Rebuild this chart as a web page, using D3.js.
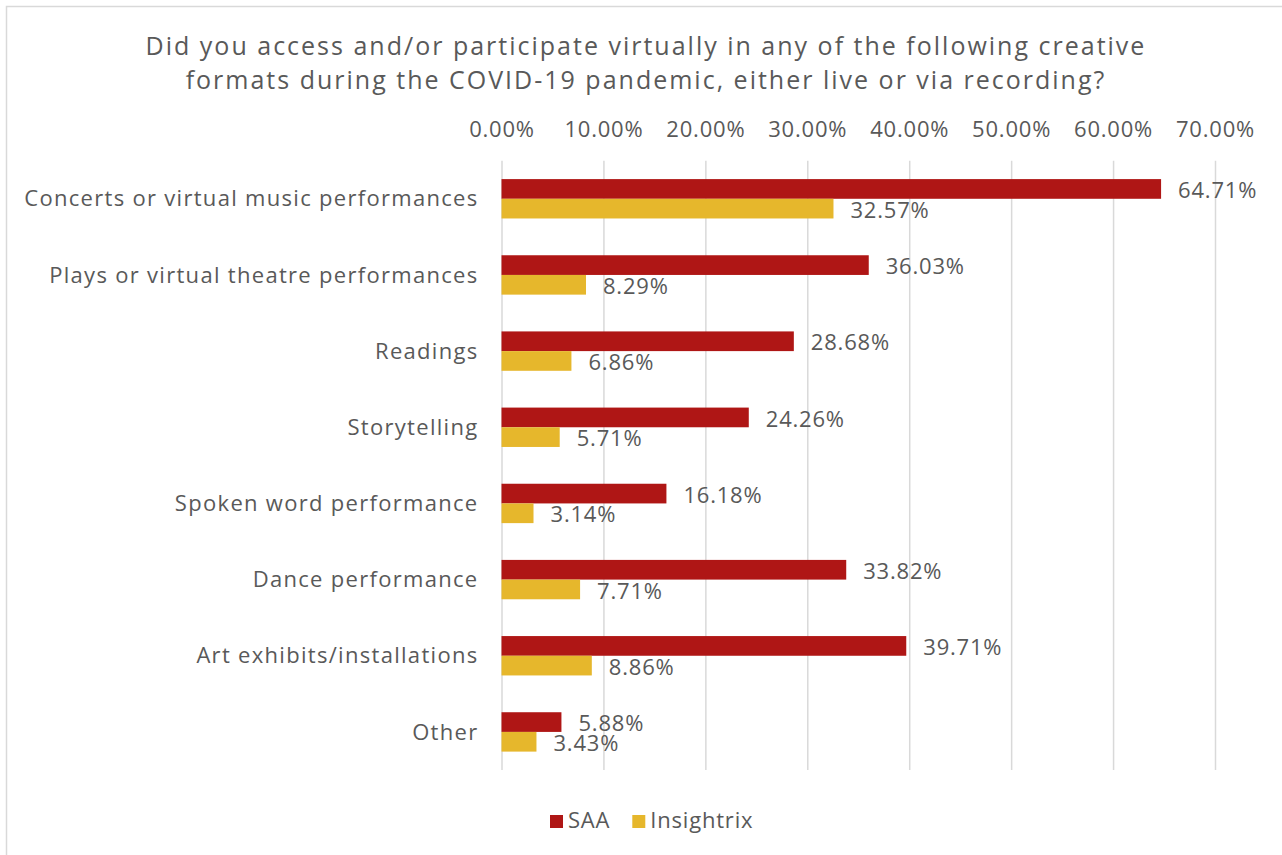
<!DOCTYPE html>
<html>
<head>
<meta charset="utf-8">
<script src="https://cdn.jsdelivr.net/npm/d3@7"></script>
<style>
  html, body { margin: 0; padding: 0; background: #ffffff; }
  svg { display: block; }
  text { font-family: "Open Sans", sans-serif; fill: #595959; letter-spacing: 0.8px; }
</style>
</head>
<body>
<svg id="chart" width="1282" height="855"></svg>
<script>
// Survey: virtual creative formats accessed during COVID-19
const categories = [
  "Concerts or virtual music performances",
  "Plays or virtual theatre performances",
  "Readings",
  "Storytelling",
  "Spoken word performance",
  "Dance performance",
  "Art exhibits/installations",
  "Other"
];
const seriesNames = ["SAA", "Insightrix"];
const saaValues = [64.71, 36.03, 28.68, 24.26, 16.18, 33.82, 39.71, 5.88];
const insightrixValues = [32.57, 8.29, 6.86, 5.71, 3.14, 7.71, 8.86, 3.43];
const seriesColors = ["#AF1615", "#E6B72C"];
const xTicks = [0, 10, 20, 30, 40, 50, 60, 70];
const titleLines = [
  "Did you access and/or participate virtually in any of the following creative",
  "formats during the COVID-19 pandemic, either live or via recording?"
];

const svg = d3.select("#chart");

// outer chart frame
svg.append("rect")
  .attr("x", 6.5).attr("y", 6.5)
  .attr("width", 1300).attr("height", 900)
  .attr("fill", "none")
  .attr("stroke", "#d9d9d9")
  .attr("stroke-width", 1.5);

const plot = { left: 501.5, right: 1215, top: 160.7, bottom: 770 };

const x = d3.scaleLinear().domain([0, 70]).range([plot.left, plot.right]);
const y = d3.scaleBand().domain(categories)
  .range([plot.top, plot.bottom])
  .paddingInner(0.483).paddingOuter(0.2415);
const ySub = d3.scaleBand().domain(seriesNames).range([0, y.bandwidth()]);

// title
svg.append("g").selectAll("text").data(titleLines).join("text")
  .attr("x", 646)
  .attr("y", (d, i) => 55 + i * 34)
  .attr("text-anchor", "middle")
  .style("font-size", "25px")
  .style("letter-spacing", "2px")
  .text(d => d);

// top axis with vertical gridlines
const xAxis = d3.axisTop(x)
  .tickValues(xTicks)
  .tickFormat(d => d.toFixed(2) + "%")
  .tickSize(-(plot.bottom - plot.top))
  .tickPadding(0);

const gx = svg.append("g")
  .attr("transform", `translate(0,${plot.top})`)
  .call(xAxis);
gx.select(".domain").remove();
gx.selectAll(".tick line")
  .attr("stroke", "#d9d9d9")
  .attr("stroke-width", 1.5);
gx.selectAll(".tick text")
  .attr("y", 137 - plot.top)
  .attr("dy", null)
  .style("font-size", "22px")
  .style("fill", "#595959");

// category labels
const yAxis = d3.axisLeft(y).tickSize(0).tickPadding(23);
const gy = svg.append("g")
  .attr("transform", `translate(${plot.left},0)`)
  .call(yAxis);
gy.select(".domain").remove();
gy.selectAll(".tick text")
  .style("font-size", "22px")
  .style("letter-spacing", "1.3px")
  .style("fill", "#595959")
  .attr("dy", "0.35em");

// bars and value labels
const rows = categories.map((c, i) => ({
  category: c,
  values: [
    { series: seriesNames[0], value: saaValues[i], color: seriesColors[0] },
    { series: seriesNames[1], value: insightrixValues[i], color: seriesColors[1] }
  ]
}));

const groups = svg.append("g").selectAll("g").data(rows).join("g")
  .attr("transform", d => `translate(0,${y(d.category)})`);

groups.selectAll("rect").data(d => d.values).join("rect")
  .attr("x", x(0))
  .attr("y", d => ySub(d.series))
  .attr("width", d => x(d.value) - x(0))
  .attr("height", ySub.bandwidth())
  .attr("fill", d => d.color);

groups.selectAll("text.value").data(d => d.values).join("text")
  .attr("class", "value")
  .attr("x", d => x(d.value) + 17)
  .attr("y", d => ySub(d.series) + ySub.bandwidth() / 2 + 1.5)
  .attr("dy", "0.35em")
  .style("font-size", "22px")
  .text(d => d.value.toFixed(2) + "%");

// legend
const legendItems = seriesNames.map((s, i) => ({ name: s, color: seriesColors[i] }));
const legend = svg.append("g").attr("transform", "translate(550,815)");
let lx = 0;
legendItems.forEach(item => {
  const g = legend.append("g").attr("transform", `translate(${lx},0)`);
  g.append("rect").attr("width", 13).attr("height", 13).attr("fill", item.color);
  const t = g.append("text")
    .attr("x", 18).attr("y", 13)
    .style("font-size", "22px")
    .text(item.name);
  lx += 18 + t.node().getComputedTextLength() + 22;
});
</script>
</body>
</html>
